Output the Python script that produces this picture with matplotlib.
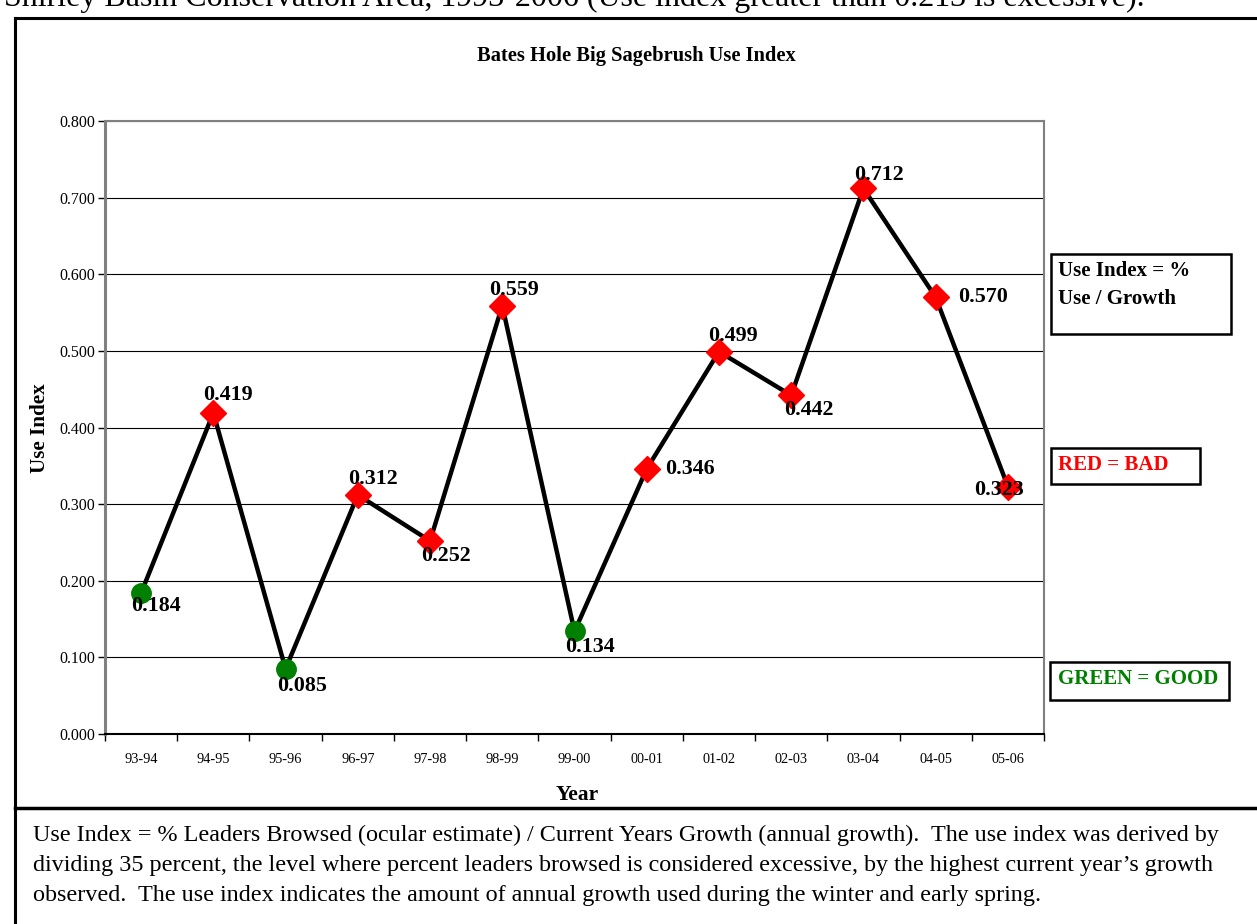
import matplotlib
matplotlib.use("Agg")
import matplotlib.pyplot as plt
from matplotlib.lines import Line2D
from matplotlib.patches import Rectangle

plt.rcParams['font.family'] = ['Liberation Serif', 'DejaVu Serif']

# Data
years = ["93-94", "94-95", "95-96", "96-97", "97-98", "98-99", "99-00",
         "00-01", "01-02", "02-03", "03-04", "04-05", "05-06"]
use_index = [0.184, 0.419, 0.085, 0.312, 0.252, 0.559, 0.134,
             0.346, 0.499, 0.442, 0.712, 0.570, 0.323]
threshold = 0.213
y_ticks = [0.0, 0.1, 0.2, 0.3, 0.4, 0.5, 0.6, 0.7, 0.8]

# Offsets (pixels) of each value label from its marker
label_offsets = [(15, -13), (15, 18), (16, -17), (15, 16), (16, -15), (12, 16),
                 (15, -16), (43, 0), (14, 16), (18, -15), (16, 13), (47, 0), (-9, -3)]

W, H = 1257, 924
fig = plt.figure(figsize=(W / 100, H / 100), dpi=100)


def fx(px):
    return px / W


def fy(py):
    return 1 - py / H


# Heading above the chart (partially cut by the page edge)
fig.text(fx(4), fy(6), "Shirley Basin Conservation Area, 1993-2006 (Use index greater than 0.213 is excessive).",
         fontsize=23, ha='left', va='baseline')

# Chart frame and caption frame
frame_color = 'black'
fig.add_artist(Line2D([fx(15), fx(15)], [fy(18), fy(924)], color=frame_color, lw=2.2))
fig.add_artist(Line2D([fx(15), fx(1257)], [fy(18), fy(18)], color=frame_color, lw=2.2))
fig.add_artist(Line2D([fx(15), fx(1257)], [fy(808), fy(808)], color=frame_color, lw=2.5))

ax = fig.add_axes([fx(105), fy(734), fx(1044 - 105), (734 - 121) / H])
x = list(range(len(years)))
ax.plot(x, use_index, color='black', lw=3.2, zorder=3, solid_joinstyle='miter')
for xi, v in zip(x, use_index):
    if v > threshold:
        ax.plot(xi, v, marker='D', markersize=13, color='#FF0000', mec='#FF0000', zorder=4)
    else:
        ax.plot(xi, v, marker='o', markersize=14, color='#008000', mec='#008000', zorder=4)

for xi, v, (dx, dy) in zip(x, use_index, label_offsets):
    ax.annotate(f"{v:.3f}", (xi, v), xytext=(dx * 0.72, dy * 0.72), textcoords='offset points',
                ha='center', va='center', fontsize=15.8, fontweight='bold', zorder=5)

ax.set_xlim(-0.5, len(years) - 0.5)
ax.set_ylim(0, 0.8)
ax.set_yticks(y_ticks)
ax.set_yticklabels([f"{t:.3f}" for t in y_ticks], fontsize=11.5)
ax.yaxis.grid(True, color='black', lw=0.8)
ax.set_axisbelow(True)

ax.set_xticks([i - 0.5 for i in range(len(years) + 1)])
ax.set_xticklabels([])
ax.set_xticks(x, minor=True)
ax.set_xticklabels(years, minor=True, fontsize=10.3)
ax.tick_params(axis='x', which='major', direction='out', length=5, width=1, color='black')
ax.tick_params(axis='x', which='minor', length=0, pad=14)
ax.tick_params(axis='y', direction='out', length=5, width=1, color='black', pad=2)

for side in ['left', 'top', 'right']:
    ax.spines[side].set_color('#808080')
ax.spines['left'].set_linewidth(2.2)
ax.spines['top'].set_linewidth(1.5)
ax.spines['right'].set_linewidth(1.5)
ax.spines['bottom'].set_color('black')
ax.spines['bottom'].set_linewidth(1.5)

fig.text(fx(636), fy(56), "Bates Hole Big Sagebrush Use Index", fontsize=14.8, fontweight='bold',
         ha='center', va='center')
fig.text(fx(40), fy(428), "Use Index", fontsize=15.2, fontweight='bold', rotation=90,
         ha='center', va='center')
fig.text(fx(577), fy(795), "Year", fontsize=15.5, fontweight='bold', ha='center', va='center')

# Side key boxes
def key_box(x0, y0, x1, y1):
    fig.add_artist(Rectangle((fx(x0), fy(y1)), fx(x1 - x0), (y1 - y0) / H,
                             fill=True, facecolor='white', edgecolor='black', lw=1.8))

key_box(1051, 254, 1231, 334)
fig.text(fx(1058), fy(271), "Use Index = %", fontsize=15, fontweight='bold', va='center', ha='left')
fig.text(fx(1058), fy(299), "Use / Growth", fontsize=15, fontweight='bold', va='center', ha='left')
key_box(1051, 448, 1200, 484)
fig.text(fx(1058), fy(465), "RED = BAD", fontsize=15, fontweight='bold', color='#FF0000',
         va='center', ha='left')
key_box(1050, 662, 1229, 700)
fig.text(fx(1058), fy(679), "GREEN = GOOD", fontsize=15, fontweight='bold', color='#008000',
         va='center', ha='left')

# Caption
caption = ["Use Index = % Leaders Browsed (ocular estimate) / Current Years Growth (annual growth).  The use index was derived by",
           "dividing 35 percent, the level where percent leaders browsed is considered excessive, by the highest current year\u2019s growth",
           "observed.  The use index indicates the amount of annual growth used during the winter and early spring."]
for i, line in enumerate(caption):
    fig.text(fx(33), fy(835 + 30 * i), line, fontsize=17.4, ha='left', va='center')

fig.savefig("out.png", dpi=100)
